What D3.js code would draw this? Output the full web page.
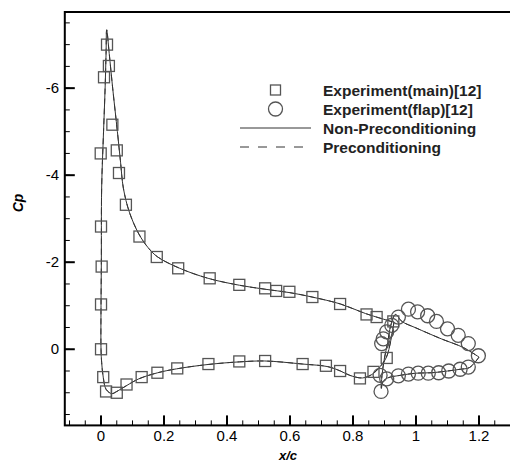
<!DOCTYPE html>
<html>
<head>
<meta charset="utf-8">
<script src="https://cdn.jsdelivr.net/npm/d3@7"></script>
<style>
  body { margin: 0; background: #fff; }
  svg { font-family: "Liberation Sans", Arial, sans-serif; }
</style>
</head>
<body>
<svg id="chart" width="510" height="464"></svg>
<script>
// experiment, main element (x/c, Cp)
const mainExpX = [0.019, 0.025, 0.0095, 0.036, -0.001, 0.05, 0.057, 0.079, 0.122, 0.177, 0.0, 0.002, 0.0, 0.0, 0.007,
  0.245, 0.345, 0.439, 0.521, 0.556, 0.598, 0.671, 0.759, 0.843, 0.875, 0.928,
  0.016, 0.05, 0.081, 0.129, 0.179, 0.242, 0.341, 0.439, 0.521, 0.64, 0.714, 0.759, 0.822, 0.865, 0.907];
const mainExpCp = [-7.0, -6.51, -6.25, -5.16, -4.5, -4.57, -4.05, -3.32, -2.59, -2.12, -2.82, -1.9, -1.03, 0.0, 0.64,
  -1.86, -1.63, -1.48, -1.40, -1.34, -1.32, -1.2, -1.04, -0.80, -0.74, -0.64,
  0.97, 1.0, 0.81, 0.64, 0.54, 0.44, 0.34, 0.28, 0.27, 0.34, 0.38, 0.5, 0.67, 0.52, 0.2];

// experiment, flap
const flapExpX = [0.891, 0.896, 0.907, 0.923, 0.944, 0.976, 1.005, 1.037, 1.065, 1.1, 1.134, 1.166, 1.198,
  0.889, 0.886, 0.907, 0.944, 0.976, 1.007, 1.039, 1.072, 1.104, 1.14, 1.166];
const flapExpCp = [-0.13, -0.24, -0.4, -0.55, -0.74, -0.92, -0.86, -0.77, -0.64, -0.47, -0.32, -0.13, 0.15,
  0.97, 0.6, 0.68, 0.61, 0.57, 0.55, 0.55, 0.54, 0.5, 0.46, 0.41];

// computed, main element (upper TE -> lower -> LE -> upper)
const mainCalcX = [0.93, 0.92, 0.905, 0.88, 0.86, 0.83, 0.79, 0.76, 0.72, 0.64, 0.52, 0.44, 0.34, 0.24, 0.18, 0.12,
  0.08, 0.05, 0.034, 0.016, 0.007, 0.002, 0.0, 0.0, 0.001, 0.002, 0.008, 0.013, 0.016, 0.018,
  0.026, 0.037, 0.052, 0.062, 0.071, 0.09, 0.12, 0.15, 0.18, 0.25, 0.34, 0.44, 0.52, 0.6, 0.67, 0.76, 0.84, 0.93];
const mainCalcCp = [-0.62, -0.2, 0.2, 0.45, 0.58, 0.66, 0.6, 0.5, 0.4, 0.34, 0.27, 0.29, 0.35, 0.45, 0.54, 0.68,
  0.84, 0.97, 1.02, 0.92, 0.64, 0.3, 0.0, -1.0, -2.0, -3.7, -5.0, -6.0, -6.8, -7.34,
  -6.8, -6.0, -5.0, -4.3, -3.7, -3.15, -2.65, -2.33, -2.12, -1.86, -1.63, -1.47, -1.38, -1.3, -1.2, -1.04, -0.82, -0.62];

// computed, flap (TE -> lower -> LE -> upper -> TE)
const flapCalcX = [1.2, 1.17, 1.14, 1.1, 1.05, 1.0, 0.95, 0.91, 0.895, 0.89, 0.892, 0.9, 0.91, 0.92, 0.935,
  0.955, 1.0, 1.08, 1.15, 1.2];
const flapCalcCp = [0.18, 0.42, 0.46, 0.5, 0.54, 0.55, 0.6, 0.66, 0.75, 0.9, 0.6, 0.2, -0.15, -0.55, -0.8,
  -0.64, -0.49, -0.24, -0.04, 0.18];

const xTicks = [0, 0.2, 0.4, 0.6, 0.8, 1, 1.2];
const yTicks = [-6, -4, -2, 0];
const legendLabels = ["Experiment(main)[12]", "Experiment(flap)[12]", "Non-Preconditioning", "Preconditioning"];

const svg = d3.select("#chart");
const x = d3.scaleLinear().domain([-0.115, 1.3]).range([64.8, 510.5]);
const y = d3.scaleLinear().domain([-7.75, 1.75]).range([12, 425.4]);
const lineColor = "#333";
const markColor = "#555";

const toPts = (xs, ys) => xs.map((v, i) => [v, ys[i]]);

const line = d3.line()
  .x((d) => x(d[0]))
  .y((d) => y(d[1]))
  .curve(d3.curveCatmullRom.alpha(0.5));

// clip to plot area
svg.append("defs").append("clipPath").attr("id", "plot")
  .append("rect")
  .attr("x", x.range()[0]).attr("y", y.range()[0])
  .attr("width", x.range()[1] - x.range()[0])
  .attr("height", y.range()[1] - y.range()[0]);

const plot = svg.append("g").attr("clip-path", "url(#plot)");

// curves (solid and dashed overlap)
[toPts(mainCalcX, mainCalcCp), toPts(flapCalcX, flapCalcCp)].forEach((pts) => {
  plot.append("path").datum(pts).attr("d", line)
    .attr("fill", "none").attr("stroke", lineColor).attr("stroke-width", 1);
  plot.append("path").datum(pts).attr("d", line)
    .attr("fill", "none").attr("stroke", lineColor).attr("stroke-width", 1)
    .attr("stroke-dasharray", "6,4");
});

// markers
plot.selectAll("rect.main")
  .data(toPts(mainExpX, mainExpCp))
  .enter().append("rect")
  .attr("class", "main")
  .attr("x", (d) => x(d[0]) - 5.5)
  .attr("y", (d) => y(d[1]) - 5.5)
  .attr("width", 11).attr("height", 11)
  .attr("fill", "none").attr("stroke", markColor).attr("stroke-width", 1.3);

plot.selectAll("circle.flap")
  .data(toPts(flapExpX, flapExpCp))
  .enter().append("circle")
  .attr("class", "flap")
  .attr("cx", (d) => x(d[0]))
  .attr("cy", (d) => y(d[1]))
  .attr("r", 7)
  .attr("fill", "none").attr("stroke", markColor).attr("stroke-width", 1.3);

// frame
svg.append("rect")
  .attr("x", x.range()[0]).attr("y", y.range()[0])
  .attr("width", x.range()[1] - x.range()[0] + 2)
  .attr("height", y.range()[1] - y.range()[0])
  .attr("fill", "none").attr("stroke", "#000").attr("stroke-width", 2);

// x ticks
const xMinor = d3.range(-0.1, 1.3, 0.05);
svg.selectAll(".xminor").data(xMinor).enter().append("line")
  .attr("x1", (d) => x(d)).attr("x2", (d) => x(d))
  .attr("y1", y.range()[1]).attr("y2", y.range()[1] - 5)
  .attr("stroke", "#000").attr("stroke-width", 1);
svg.selectAll(".xmajor").data(xTicks).enter().append("line")
  .attr("x1", (d) => x(d)).attr("x2", (d) => x(d))
  .attr("y1", y.range()[1]).attr("y2", y.range()[1] - 10)
  .attr("stroke", "#000").attr("stroke-width", 2);
svg.selectAll(".xlabel").data(xTicks).enter().append("text")
  .attr("x", (d) => x(d)).attr("y", 441)
  .attr("text-anchor", "middle").attr("font-size", "15px")
  .text((d) => d);

// y ticks
const yMinor = d3.range(-7.5, 1.6, 0.5);
svg.selectAll(".yminor").data(yMinor).enter().append("line")
  .attr("x1", x.range()[0]).attr("x2", x.range()[0] + 5)
  .attr("y1", (d) => y(d)).attr("y2", (d) => y(d))
  .attr("stroke", "#000").attr("stroke-width", 1);
svg.selectAll(".ymajor").data(yTicks).enter().append("line")
  .attr("x1", x.range()[0]).attr("x2", x.range()[0] + 10)
  .attr("y1", (d) => y(d)).attr("y2", (d) => y(d))
  .attr("stroke", "#000").attr("stroke-width", 2);
svg.selectAll(".ylabel").data(yTicks).enter().append("text")
  .attr("x", 59).attr("y", (d) => y(d) + 5)
  .attr("text-anchor", "end").attr("font-size", "15px")
  .text((d) => d);

// axis titles
svg.append("text")
  .attr("x", 288).attr("y", 460)
  .attr("text-anchor", "middle").attr("font-size", "13px")
  .attr("font-weight", "bold").attr("font-style", "italic")
  .text("x/c");
svg.append("text")
  .attr("transform", "translate(23,203) rotate(-90)")
  .attr("text-anchor", "middle").attr("font-size", "14px")
  .attr("font-weight", "bold").attr("font-style", "italic")
  .text("Cp");

// legend
const legend = svg.append("g");
const rowY = [90, 109, 128, 147];
legend.append("rect")
  .attr("x", 270.5).attr("y", rowY[0] - 5).attr("width", 10).attr("height", 10)
  .attr("fill", "none").attr("stroke", markColor).attr("stroke-width", 1.3);
legend.append("circle")
  .attr("cx", 275.5).attr("cy", rowY[1]).attr("r", 7)
  .attr("fill", "none").attr("stroke", markColor).attr("stroke-width", 1.3);
legend.append("line")
  .attr("x1", 240).attr("x2", 311).attr("y1", rowY[2]).attr("y2", rowY[2])
  .attr("stroke", lineColor).attr("stroke-width", 1);
legend.append("line")
  .attr("x1", 240).attr("x2", 311).attr("y1", rowY[3]).attr("y2", rowY[3])
  .attr("stroke", lineColor).attr("stroke-width", 1)
  .attr("stroke-dasharray", "9,9");
legend.selectAll("text").data(legendLabels).enter().append("text")
  .attr("x", 323).attr("y", (d, i) => rowY[i] + 5.5)
  .attr("font-size", "15.5px").attr("font-weight", "bold").attr("fill", "#222")
  .text((d) => d);
</script>
</body>
</html>
